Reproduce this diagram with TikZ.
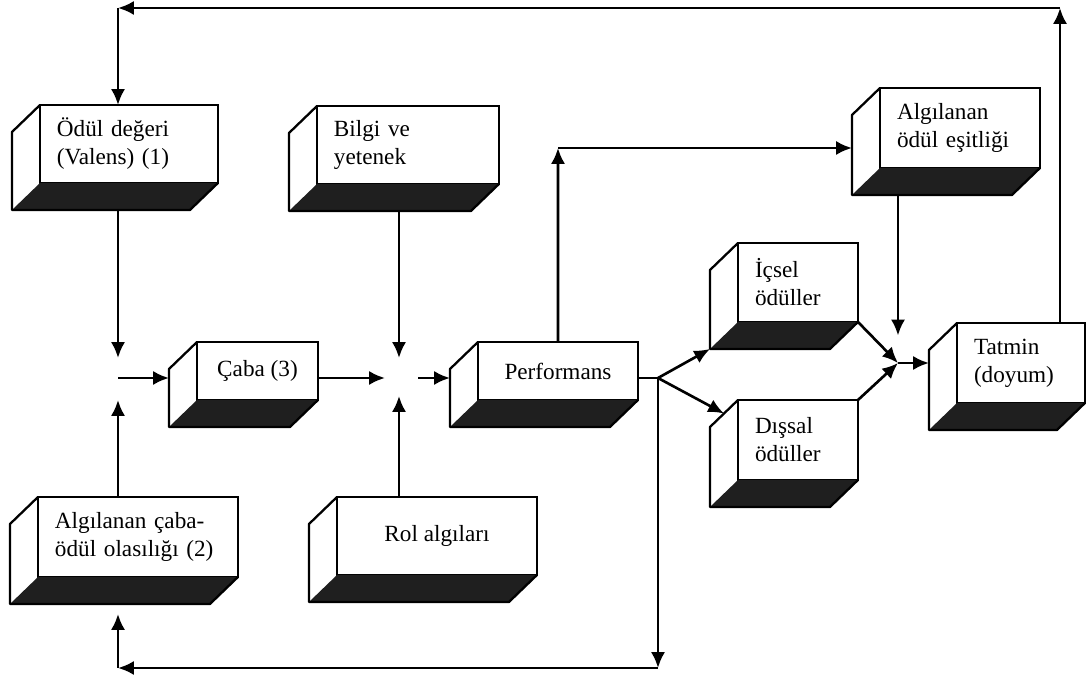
\documentclass[tikz,border=0pt]{standalone}
\usepackage{fontspec}
\setmainfont{Liberation Serif}
\usepackage{tikz}
\usetikzlibrary{arrows.meta,calc}

\tikzset{
  kutu/.style={draw, fill=white, line width=1.3pt, anchor=north west, outer sep=0pt,
    inner xsep=0.34cm, inner ysep=0pt, align=left,
    font=\fontsize{13.2}{16}\selectfont},
  ok/.style={line width=1.5pt, -{Latex[length=9pt,width=8pt]}},
  cizgi/.style={line width=1.5pt}
}

% side and bottom faces of a box
\newcommand{\yuzler}[1]{%
  \coordinate (#1-t) at ($(#1.north west)+(-28,27)$);
  \coordinate (#1-b) at ($(#1.south west)+(-28,27)$);
  \coordinate (#1-c) at ($(#1.south east)+(-28,27)$);
  \fill[black!88] (#1.south west) -- (#1.south east) -- (#1-c) -- (#1-b) -- cycle;
  \draw[line width=1.3pt, line join=round] (#1.north west) -- (#1-t) -- (#1-b) -- (#1-c) -- (#1.south east);
}

\begin{document}
\begin{tikzpicture}[x=0.02cm,y=-0.02cm]
		\useasboundingbox (0,0) rectangle (1089,685);

		% Draw the boxes
		\node[kutu, text width=2.88cm, minimum height=1.56cm] (odul) at (40,105) {Ödül değeri\\(Valens) (1)};
		\node[kutu, text width=2.96cm, minimum height=1.56cm] (bilgi) at (317,106) {Bilgi ve\\yetenek};
		\node[kutu, text width=2.52cm, minimum height=1.6cm] (esit) at (880,88) {Algılanan\\ödül eşitliği};
		\node[kutu, inner xsep=0pt, minimum width=2.42cm, minimum height=1.16cm, align=center] (caba) at (197,342) {Çaba (3)};
		\node[kutu, inner xsep=0pt, minimum width=3.2cm, minimum height=1.16cm, align=center] (perf) at (478,342) {Performans};
		\node[kutu, text width=1.72cm, minimum height=1.58cm] (icsel) at (738,243) {İçsel\\ödüller};
		\node[kutu, text width=1.72cm, minimum height=1.6cm] (dis) at (738,400) {Dışsal\\ödüller};
		\node[kutu, text width=1.88cm, minimum height=1.6cm] (tatmin) at (957,323) {Tatmin\\(doyum)};
		\node[kutu, text width=3.32cm, minimum height=1.6cm] (olas) at (38,497) {Algılanan çaba-\\ödül olasılığı (2)};
		\node[kutu, inner xsep=0pt, minimum width=4cm, minimum height=1.56cm, align=center] (rol) at (337,497) {Rol algıları};

		\yuzler{odul}
		\yuzler{bilgi}
		\yuzler{esit}
		\yuzler{caba}
		\yuzler{perf}
		\yuzler{icsel}
		\yuzler{dis}
		\yuzler{tatmin}
		\yuzler{olas}
		\yuzler{rol}

		% Junctions and corners
		\coordinate (j1) at (118,378);
		\coordinate (j2) at (399,378);
		\coordinate (j3) at (658,378);
		\coordinate (j4) at (898,363);
		\coordinate (k1) at (558,148);
		\coordinate (k2) at (658,668);
		\coordinate (k3) at (118,668);
		\coordinate (k4) at (1060,8);
		\coordinate (k5) at (118,8);

		% Draw the arrows
		\draw[ok, shorten >=0.4cm] (j1 |- odul-b) -- (j1);
		\draw[ok, shorten >=0.44cm] (j1 |- olas.north) -- (j1);
		\draw[ok] (j1) -- (j1 -| caba-b);
		\draw[ok, shorten >=0.28cm] (j2 -| caba.east) -- (j2);
		\draw[ok, shorten >=0.4cm] (j2 |- bilgi-b) -- (j2);
		\draw[ok, shorten >=0.36cm] (j2 |- rol.north) -- (j2);
		\draw[ok, shorten <=0.38cm] (j2) -- (j2 -| perf-b);
		\draw[ok] (perf.north) -- (k1);
		\draw[ok] (k1) -- (k1 -| esit-b);
		\draw[cizgi] (j3 -| perf.east) -- (j3);
		\draw[ok] (j3) -- (icsel-b);
		\draw[ok] (j3) -- ($(dis.north west)!0.5!(dis-t)$);
		\draw[ok] (j3) -- (k2);
		\draw[ok] (k2) -- (k3);
		\draw[ok, shorten >=0.2cm] (k3) -- (k3 |- olas-b);
		\draw[ok] (icsel.south east) -- (j4);
		\draw[ok] (dis.north east) -- (j4);
		\draw[ok, shorten >=0.55cm] (j4 |- esit-b) -- (j4);
		\draw[ok] (j4) -- (j4 -| tatmin-b);
		\draw[ok] (k4 |- tatmin.north) -- (k4);
		\draw[ok] (k4) -- (k5);
		\draw[ok] (k5) -- (k5 |- odul.north);
	\end{tikzpicture}
\end{document}
